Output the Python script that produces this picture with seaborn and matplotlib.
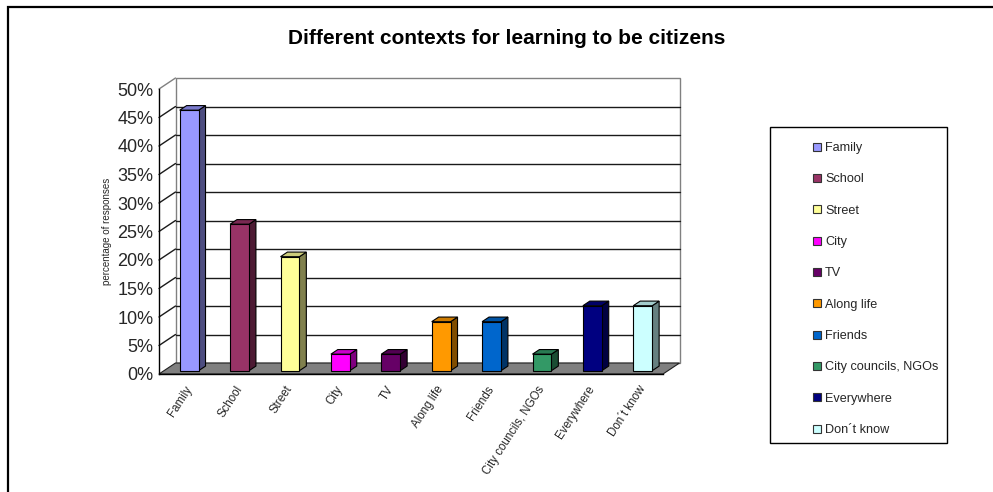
import matplotlib
matplotlib.use("Agg")
import matplotlib.pyplot as plt
import seaborn as sns
import pandas as pd
import numpy as np
from matplotlib.patches import Polygon, Rectangle, Patch
from matplotlib.lines import Line2D
import matplotlib.colors as mcolors

sns.set_style("white")
plt.rcParams['font.family'] = ['Liberation Sans', 'DejaVu Sans']

categories = ["Family", "School", "Street", "City", "TV", "Along life", "Friends",
              "City councils, NGOs", "Everywhere", "Don\u00b4t know"]
values = [45.7, 25.7, 20.0, 2.9, 2.9, 8.6, 8.6, 2.9, 11.4, 11.4]
colors = ["#9999FF", "#993366", "#FFFF99", "#FF00FF", "#660066", "#FF9900",
          "#0066CC", "#339966", "#000080", "#CCFFFF"]
yticks = [0, 5, 10, 15, 20, 25, 30, 35, 40, 45, 50]
ytick_labels = [f"{v}%" for v in yticks]
title = "Different contexts for learning to be citizens"
ylabel = "percentage of responses"

W, H, DPI = 993, 492, 100
fig = plt.figure(figsize=(W / DPI, H / DPI), dpi=DPI)
fig.patch.set_facecolor("white")

# axes geometry (pixels)
x0p, x1p, y0p, y1p = 159, 663, 374, 89
ax = fig.add_axes([x0p / W, 1 - y0p / H, (x1p - x0p) / W, (y0p - y1p) / H])
n = len(categories)
ax.set_xlim(-0.5, n - 0.5)
ax.set_ylim(0, 50)
ax.patch.set_visible(False)

# depth in data units
px_x = (x1p - x0p) / n
px_y = (y0p - y1p) / 50
DX = 16.5 / px_x
DY = 11.0 / px_y

# back wall
xl, xr = -0.5, n - 0.5
wall = Rectangle((xl + DX, DY), xr - xl, 50, facecolor="white", edgecolor="#808080",
                 lw=1.0, clip_on=False, zorder=0.5)
ax.add_patch(wall)
for v in yticks[1:-1]:
    ax.add_line(Line2D([xl + DX, xr + DX], [v + DY, v + DY], color="#1a1a1a", lw=1.0,
                       clip_on=False, zorder=0.6))
    ax.add_line(Line2D([xl, xl + DX], [v, v + DY], color="#1a1a1a", lw=1.0,
                       clip_on=False, zorder=0.6))
ax.add_line(Line2D([xl, xl + DX], [50, 50 + DY], color="#808080", lw=1.0,
                   clip_on=False, zorder=0.6))
# floor
floor = Polygon([(xl, 0), (xr, 0), (xr + DX, DY), (xl + DX, DY)], closed=True,
                facecolor="#808080", edgecolor="#202020", lw=0.8, clip_on=False, zorder=0.7)
ax.add_patch(floor)

df = pd.DataFrame({"cat": categories, "val": values})
sns.barplot(data=df, x="cat", y="val", hue="cat", palette=colors, width=0.375,
            saturation=1, legend=False, edgecolor="black", linewidth=0.8, ax=ax, zorder=2)

f1, f2 = 0.3, 0.72
bd_x, bd_y = (f2 - f1) * DX, (f2 - f1) * DY
for p, c in zip(ax.patches[-n:], colors):
    p.set_x(p.get_x() + f1 * DX)
    p.set_y(p.get_y() + f1 * DY)
    p.set_zorder(3)
    bx0 = p.get_x(); bx1 = bx0 + p.get_width()
    by0 = p.get_y(); by1 = by0 + p.get_height()
    rgb = np.array(mcolors.to_rgb(c))
    side = Polygon([(bx1, by0), (bx1 + bd_x, by0 + bd_y), (bx1 + bd_x, by1 + bd_y), (bx1, by1)],
                   closed=True, facecolor=rgb * 0.5, edgecolor="black", lw=0.8, zorder=2.9)
    top = Polygon([(bx0, by1), (bx0 + bd_x, by1 + bd_y), (bx1 + bd_x, by1 + bd_y), (bx1, by1)],
                  closed=True, facecolor=rgb * 0.8, edgecolor="black", lw=0.8, zorder=2.9)
    ax.add_patch(side); ax.add_patch(top)

# spines and ticks
for s in ["top", "right"]:
    ax.spines[s].set_visible(False)
for s in ["left", "bottom"]:
    ax.spines[s].set_color("black"); ax.spines[s].set_linewidth(1.0); ax.spines[s].set_zorder(4)
ax.set_yticks(yticks)
ax.set_yticklabels(ytick_labels, fontsize=13)
ax.tick_params(axis="y", direction="out", length=3.5, width=1, color="black", pad=0.5)
ax.set_xticks(range(n))
ax.set_xticklabels(categories, fontsize=8.3, rotation=57, ha="right", va="top",
                   rotation_mode="anchor")
ax.tick_params(axis="x", which="major", length=0, pad=7)
ax.set_xticks(np.arange(-0.5, n, 1.0), minor=True)
ax.tick_params(axis="x", which="minor", direction="out", length=4, width=1, color="black")
ax.set_xlabel("")
ax.set_ylabel(ylabel, fontsize=7, labelpad=4)

# title
fig.text(507 / W, 1 - 37 / H, title, ha="center", va="center_baseline", fontsize=15,
         fontweight="bold", color="black")

# legend
handles = [Patch(facecolor=c, edgecolor="#333333", lw=0.8) for c in colors]
leg = fig.legend(handles, categories, loc="upper left", bbox_to_anchor=(813 / W, 1 - 142 / H),
                 frameon=False, fontsize=9.1, handlelength=0.6, handleheight=0.6,
                 handletextpad=0.35, labelspacing=1.53, borderpad=0, borderaxespad=0)
fig.add_artist(Rectangle((770 / W, 1 - 443 / H), (947 - 770) / W, (443 - 127) / H,
                         transform=fig.transFigure, fill=False, edgecolor="black", lw=1.0))

# outer chart border
fig.add_artist(Rectangle((8 / W, -0.1), 1.2, (1 - 7 / H) + 0.1, transform=fig.transFigure,
                         fill=False, edgecolor="black", lw=1.6))

fig.savefig("out.png", dpi=DPI, facecolor="white")
